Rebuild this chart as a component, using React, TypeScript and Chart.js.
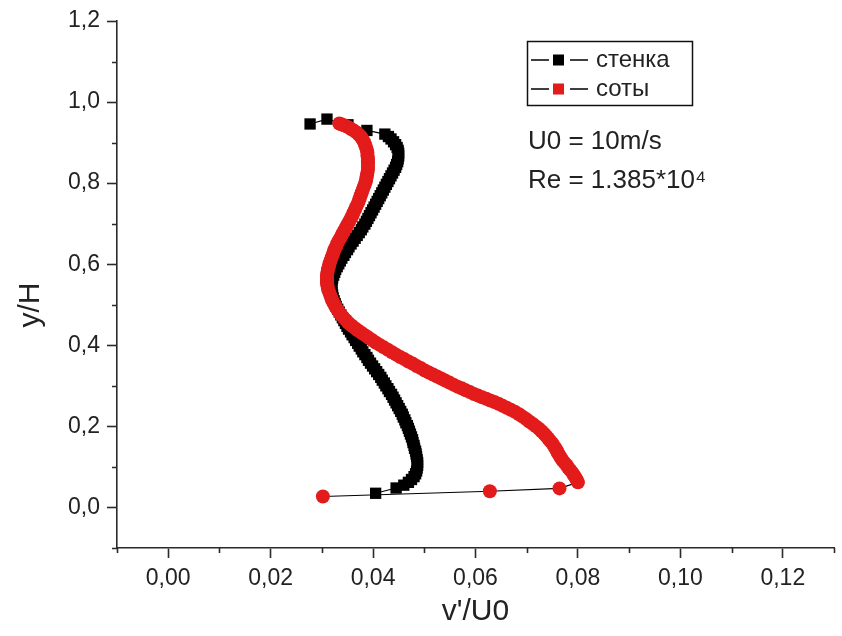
import { useEffect, useRef } from 'react';
import { Chart, registerables } from 'chart.js';

Chart.register(...registerables);

const FONT = '"Liberation Sans", Arial, Helvetica, sans-serif';
const TEXT = '#222222';
const AXIS = '#2a2a2a';
const RED = '#e31b1b';

// Axis ticks
const xMajorTicks = [0, 0.02, 0.04, 0.06, 0.08, 0.1, 0.12];
const xTickLabels = ['0,00', '0,02', '0,04', '0,06', '0,08', '0,10', '0,12'];
const xMinorTicks = [-0.01, 0.01, 0.03, 0.05, 0.07, 0.09, 0.11, 0.13];
const yMajorTicks = [0, 0.2, 0.4, 0.6, 0.8, 1.0, 1.2];
const yTickLabels = ['0,0', '0,2', '0,4', '0,6', '0,8', '1,0', '1,2'];
const yMinorTicks = [-0.1, 0.1, 0.3, 0.5, 0.7, 0.9, 1.1];

// Series "стенка" (v'/U0, y/H)
const stenkaV = [
  0.0405, 0.0445, 0.046, 0.0469, 0.0475, 0.048, 0.0483, 0.0485, 0.0486, 0.0487,
  0.0487, 0.0486, 0.0485, 0.0484, 0.0483, 0.0481, 0.048, 0.0478, 0.0477, 0.0475,
  0.0473, 0.0471, 0.0469, 0.0467, 0.0464, 0.0462, 0.0459, 0.0457, 0.0454, 0.0451,
  0.0448, 0.0445, 0.0442, 0.0439, 0.0436, 0.0432, 0.0429, 0.0425, 0.0422, 0.0418,
  0.0415, 0.0411, 0.0407, 0.0403, 0.0399, 0.0395, 0.0391, 0.0388, 0.0384, 0.038,
  0.0377, 0.0373, 0.037, 0.0366, 0.0363, 0.0359, 0.0356, 0.0352, 0.0349, 0.0346,
  0.0343, 0.034, 0.0337, 0.0334, 0.0331, 0.0328, 0.0326, 0.0324, 0.0322, 0.0321,
  0.032, 0.0319, 0.0319, 0.0319, 0.032, 0.0321, 0.0323, 0.0325, 0.0327, 0.033,
  0.0333, 0.0336, 0.0339, 0.0343, 0.0346, 0.035, 0.0353, 0.0357, 0.0361, 0.0365,
  0.0369, 0.0373, 0.0377, 0.038, 0.0384, 0.0387, 0.039, 0.0393, 0.0396, 0.0399,
  0.0402, 0.0405, 0.0408, 0.0411, 0.0414, 0.0417, 0.042, 0.0423, 0.0426, 0.0429,
  0.0432, 0.0435, 0.0438, 0.0441, 0.0444, 0.0446, 0.0448, 0.0449, 0.045, 0.045,
  0.0449, 0.0447, 0.0444, 0.044, 0.0435, 0.043, 0.0423, 0.0388, 0.0351, 0.031,
  0.0277,
];
const stenkaY = [
  0.035, 0.048, 0.055, 0.062, 0.069, 0.076, 0.083, 0.09, 0.097, 0.104,
  0.111, 0.118, 0.125, 0.132, 0.139, 0.146, 0.153, 0.16, 0.167, 0.174,
  0.181, 0.188, 0.195, 0.202, 0.209, 0.216, 0.223, 0.23, 0.237, 0.244,
  0.251, 0.258, 0.265, 0.272, 0.279, 0.286, 0.293, 0.3, 0.307, 0.314,
  0.321, 0.328, 0.335, 0.342, 0.349, 0.356, 0.363, 0.37, 0.377, 0.384,
  0.391, 0.398, 0.405, 0.412, 0.419, 0.426, 0.433, 0.44, 0.447, 0.454,
  0.461, 0.468, 0.475, 0.482, 0.489, 0.496, 0.503, 0.51, 0.517, 0.524,
  0.531, 0.538, 0.545, 0.552, 0.559, 0.566, 0.573, 0.58, 0.587, 0.594,
  0.601, 0.608, 0.615, 0.622, 0.629, 0.636, 0.643, 0.65, 0.657, 0.664,
  0.671, 0.678, 0.685, 0.692, 0.699, 0.706, 0.713, 0.72, 0.727, 0.734,
  0.741, 0.748, 0.755, 0.762, 0.769, 0.776, 0.783, 0.79, 0.797, 0.804,
  0.811, 0.818, 0.825, 0.832, 0.839, 0.846, 0.853, 0.86, 0.867, 0.874,
  0.881, 0.888, 0.895, 0.902, 0.909, 0.915, 0.921, 0.93, 0.944, 0.958,
  0.946,
];

// Series "соты" (v'/U0, y/H)
const sotyV = [
  0.0302, 0.0628, 0.0764, 0.08, 0.0798, 0.0795, 0.0792, 0.0789, 0.0785, 0.0781,
  0.0778, 0.0774, 0.077, 0.0767, 0.0764, 0.0761, 0.0759, 0.0756, 0.0753, 0.075,
  0.0746, 0.0742, 0.0738, 0.0734, 0.0729, 0.0724, 0.0718, 0.0712, 0.0705, 0.0699,
  0.0692, 0.0685, 0.0677, 0.0669, 0.0661, 0.0653, 0.0645, 0.0637, 0.0629, 0.0621,
  0.0613, 0.0605, 0.0597, 0.0589, 0.0581, 0.0573, 0.0565, 0.0557, 0.0549, 0.0541,
  0.0533, 0.0525, 0.0517, 0.0509, 0.0501, 0.0493, 0.0485, 0.0477, 0.0469, 0.0461,
  0.0453, 0.0445, 0.0437, 0.0429, 0.0421, 0.0413, 0.0405, 0.0398, 0.0391, 0.0384,
  0.0377, 0.037, 0.0364, 0.0358, 0.0352, 0.0347, 0.0342, 0.0337, 0.0333, 0.0329,
  0.0326, 0.0323, 0.032, 0.0318, 0.0316, 0.0314, 0.0312, 0.0311, 0.031, 0.031,
  0.031, 0.031, 0.0311, 0.0312, 0.0314, 0.0315, 0.0317, 0.0319, 0.0321, 0.0323,
  0.0325, 0.0328, 0.033, 0.0333, 0.0336, 0.0339, 0.0342, 0.0345, 0.0348, 0.0351,
  0.0354, 0.0357, 0.036, 0.0362, 0.0365, 0.0367, 0.037, 0.0372, 0.0374, 0.0376,
  0.0378, 0.038, 0.0382, 0.0384, 0.0386, 0.0387, 0.0388, 0.0389, 0.039, 0.039,
  0.039, 0.039, 0.039, 0.0389, 0.0389, 0.0388, 0.0386, 0.0384, 0.0382, 0.0379,
  0.0376, 0.0372, 0.0368, 0.0363, 0.0358, 0.0353, 0.0348, 0.0343, 0.0338, 0.0334,
];
const sotyY = [
  0.027, 0.04, 0.047, 0.062, 0.068, 0.074, 0.08, 0.086, 0.092, 0.098,
  0.104, 0.11, 0.116, 0.122, 0.128, 0.134, 0.14, 0.146, 0.152, 0.158,
  0.164, 0.17, 0.176, 0.182, 0.188, 0.194, 0.2, 0.206, 0.212, 0.218,
  0.224, 0.23, 0.236, 0.241, 0.246, 0.251, 0.256, 0.26, 0.264, 0.268,
  0.272, 0.276, 0.28, 0.285, 0.289, 0.294, 0.298, 0.303, 0.308, 0.313,
  0.318, 0.323, 0.328, 0.333, 0.338, 0.344, 0.349, 0.355, 0.36, 0.366,
  0.371, 0.377, 0.383, 0.389, 0.395, 0.401, 0.407, 0.413, 0.419, 0.425,
  0.431, 0.437, 0.443, 0.449, 0.455, 0.462, 0.469, 0.476, 0.483, 0.49,
  0.497, 0.504, 0.511, 0.518, 0.525, 0.532, 0.539, 0.546, 0.553, 0.56,
  0.567, 0.574, 0.581, 0.588, 0.595, 0.602, 0.609, 0.616, 0.623, 0.63,
  0.637, 0.644, 0.651, 0.658, 0.665, 0.672, 0.679, 0.686, 0.693, 0.7,
  0.707, 0.714, 0.721, 0.728, 0.735, 0.742, 0.749, 0.756, 0.763, 0.77,
  0.777, 0.784, 0.791, 0.798, 0.805, 0.812, 0.819, 0.826, 0.833, 0.84,
  0.847, 0.854, 0.861, 0.868, 0.875, 0.882, 0.889, 0.896, 0.903, 0.909,
  0.915, 0.92, 0.925, 0.929, 0.933, 0.937, 0.94, 0.943, 0.945, 0.947,
];

const legendItems = [
  { label: 'стенка', color: '#000000' },
  { label: 'соты', color: RED },
];
const noteLines = ['U0 = 10m/s', 'Re = 1.385*10⁴'];
const yTitle = 'y/H';

const toPoints = (xs: number[], ys: number[]) => xs.map((x, i) => ({ x, y: ys[i] }));

const decorations = {
  id: 'decorations',
  afterDraw(chart: any) {
    const { ctx } = chart;
    const xs = chart.scales.x;
    const ys = chart.scales.y;
    ctx.save();

    // minor ticks
    ctx.strokeStyle = AXIS;
    ctx.lineWidth = 1.6;
    ctx.beginPath();
    xMinorTicks.forEach((v) => {
      const px = Math.round(xs.getPixelForValue(v)) + 0.5;
      ctx.moveTo(px, ys.bottom);
      ctx.lineTo(px, ys.bottom + 5);
    });
    yMinorTicks.forEach((v) => {
      const py = Math.round(ys.getPixelForValue(v)) + 0.5;
      ctx.moveTo(xs.left - 5, py);
      ctx.lineTo(xs.left, py);
    });
    ctx.stroke();

    // y axis title
    ctx.save();
    ctx.translate(31, 305);
    ctx.rotate(-Math.PI / 2);
    ctx.fillStyle = TEXT;
    ctx.font = `30px ${FONT}`;
    ctx.textAlign = 'center';
    ctx.textBaseline = 'middle';
    ctx.fillText(yTitle, 0, 0);
    ctx.restore();

    // legend box
    const bx = 527;
    const by = 41;
    const bw = 165;
    const bh = 64;
    ctx.lineWidth = 1.5;
    ctx.strokeStyle = '#111111';
    ctx.strokeRect(bx + 0.5, by + 0.5, bw, bh);
    legendItems.forEach((item, i) => {
      const cy = by + 19 + i * 29;
      ctx.strokeStyle = '#000000';
      ctx.lineWidth = 1.5;
      ctx.beginPath();
      ctx.moveTo(bx + 4, cy);
      ctx.lineTo(bx + 22, cy);
      ctx.moveTo(bx + 43, cy);
      ctx.lineTo(bx + 61, cy);
      ctx.stroke();
      ctx.fillStyle = item.color;
      ctx.fillRect(bx + 26, cy - 5.5, 11, 11);
      ctx.fillStyle = TEXT;
      ctx.font = `24px ${FONT}`;
      ctx.textBaseline = 'middle';
      ctx.textAlign = 'left';
      ctx.fillText(item.label, bx + 69, cy);
    });

    // flow parameters
    ctx.fillStyle = TEXT;
    ctx.font = `26px ${FONT}`;
    ctx.textAlign = 'left';
    ctx.textBaseline = 'alphabetic';
    noteLines.forEach((line, i) => {
      ctx.fillText(line, 528, 149 + i * 39);
    });

    ctx.restore();
  },
};

export default function App() {
  const canvasRef = useRef<HTMLCanvasElement | null>(null);

  useEffect(() => {
    const canvas = canvasRef.current;
    if (!canvas) return;
    const chart = new Chart(canvas, {
      type: 'scatter',
      data: {
        datasets: [
          {
            label: 'соты',
            data: toPoints(sotyV, sotyY),
            showLine: true,
            borderColor: '#000000',
            borderWidth: 1.2,
            pointStyle: 'circle',
            pointRadius: 7,
            pointBackgroundColor: RED,
            pointBorderColor: RED,
            pointBorderWidth: 0,
            order: 0,
          },
          {
            label: 'стенка',
            data: toPoints(stenkaV, stenkaY),
            showLine: true,
            borderColor: '#000000',
            borderWidth: 1.2,
            pointStyle: 'rect',
            pointRadius: 8,
            pointBackgroundColor: '#000000',
            pointBorderColor: '#000000',
            pointBorderWidth: 0,
            order: 1,
          },
        ],
      },
      options: {
        animation: false,
        responsive: false,
        events: [],
        layout: { padding: { top: 21, right: 8, left: 0, bottom: 0 } },
        plugins: {
          legend: { display: false },
          tooltip: { enabled: false },
        },
        scales: {
          x: {
            type: 'linear',
            min: -0.01,
            max: 0.13,
            afterBuildTicks: (s: any) => {
              s.ticks = xMajorTicks.map((value) => ({ value }));
            },
            afterFit: (s: any) => {
              s.height = 88;
            },
            ticks: {
              callback: (_v: any, i: number) => xTickLabels[i],
              autoSkip: false,
              maxRotation: 0,
              color: TEXT,
              padding: 7,
              font: { family: FONT, size: 23 },
            },
            grid: {
              drawOnChartArea: false,
              drawTicks: true,
              tickLength: 10,
              tickColor: AXIS,
              tickWidth: 1.6,
            },
            border: { display: true, color: AXIS, width: 1.6 },
            title: {
              display: true,
              text: "v'/U0",
              color: TEXT,
              font: { family: FONT, size: 30 },
              padding: { top: 0, bottom: 6 },
            },
          },
          y: {
            type: 'linear',
            min: -0.1,
            max: 1.2,
            afterBuildTicks: (s: any) => {
              s.ticks = yMajorTicks.map((value) => ({ value }));
            },
            afterFit: (s: any) => {
              s.width = 117;
            },
            ticks: {
              callback: (_v: any, i: number) => yTickLabels[i],
              autoSkip: false,
              color: TEXT,
              padding: 7,
              font: { family: FONT, size: 23 },
            },
            grid: {
              drawOnChartArea: false,
              drawTicks: true,
              tickLength: 10,
              tickColor: AXIS,
              tickWidth: 1.6,
            },
            border: { display: true, color: AXIS, width: 1.6 },
            title: { display: false },
          },
        },
      },
      plugins: [decorations],
    });
    return () => chart.destroy();
  }, []);

  return (
    <div
      style={{
        position: 'fixed',
        left: 0,
        top: 0,
        width: 842,
        height: 636,
        background: '#ffffff',
      }}
    >
      <canvas ref={canvasRef} width={842} height={636} style={{ display: 'block', width: 842, height: 636 }} />
    </div>
  );
}
